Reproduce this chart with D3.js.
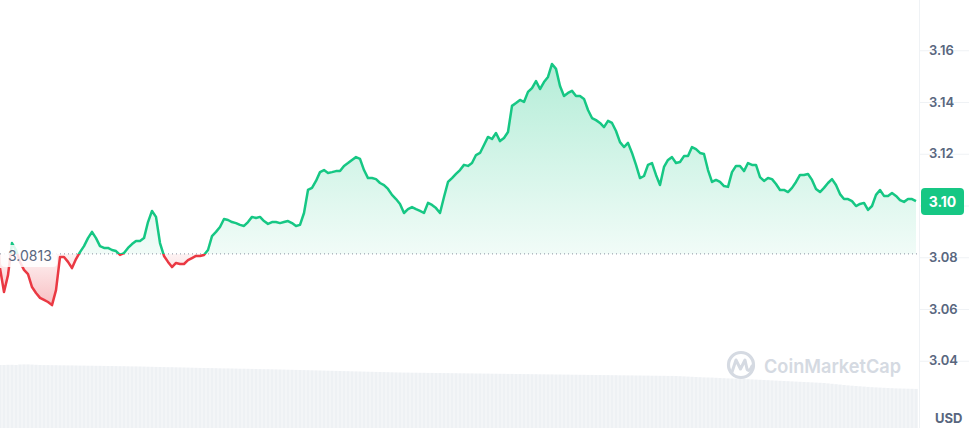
<!DOCTYPE html>
<html><head><meta charset="utf-8">
<script src="https://cdn.jsdelivr.net/npm/d3@7"></script>
<style>html,body{margin:0;padding:0;background:#fff;}svg{display:block;font-family:Inter,"Noto Sans",sans-serif;}</style>
</head><body>
<svg id="chart" width="969" height="428"></svg>
<script>
const prices = [
3.0758,3.0666,3.0731,3.0855,3.0828,3.0782,3.0751,3.0735,3.0685,3.0662,
3.0643,3.0635,3.0627,3.0615,3.0673,3.0801,3.0801,3.0782,3.0758,3.0793,
3.0820,3.0843,3.0874,3.0898,3.0874,3.0843,3.0836,3.0836,3.0828,3.0824,
3.0809,3.0816,3.0836,3.0851,3.0863,3.0863,3.0874,3.0936,3.0979,3.0956,
3.0855,3.0805,3.0782,3.0762,3.0778,3.0774,3.0774,3.0789,3.0797,3.0805,
3.0805,3.0809,3.0828,3.0882,3.0898,3.0917,3.0948,3.0944,3.0936,3.0932,
3.0925,3.0921,3.0936,3.0956,3.0952,3.0956,3.0940,3.0929,3.0936,3.0936,
3.0932,3.0936,3.0940,3.0932,3.0921,3.0925,3.0971,3.1060,3.1068,3.1095,
3.1129,3.1137,3.1126,3.1129,3.1133,3.1133,3.1153,3.1164,3.1176,3.1187,
3.1180,3.1137,3.1106,3.1106,3.1102,3.1087,3.1079,3.1064,3.1041,3.1025,
3.1006,3.0971,3.0986,3.0994,3.0986,3.0979,3.0971,3.1010,3.1002,3.0990,
3.0971,3.1033,3.1091,3.1106,3.1122,3.1137,3.1157,3.1153,3.1164,3.1195,
3.1203,3.1234,3.1265,3.1257,3.1280,3.1249,3.1261,3.1284,3.1385,3.1396,
3.1408,3.1400,3.1439,3.1454,3.1481,3.1450,3.1477,3.1497,3.1547,3.1528,
3.1462,3.1423,3.1435,3.1443,3.1423,3.1423,3.1412,3.1369,3.1338,3.1330,
3.1319,3.1303,3.1327,3.1319,3.1288,3.1245,3.1226,3.1242,3.1203,3.1157,
3.1106,3.1114,3.1157,3.1164,3.1118,3.1079,3.1149,3.1176,3.1187,3.1164,
3.1168,3.1191,3.1191,3.1226,3.1218,3.1203,3.1199,3.1137,3.1091,3.1099,
3.1091,3.1075,3.1072,3.1129,3.1153,3.1153,3.1133,3.1164,3.1157,3.1157,
3.1110,3.1095,3.1106,3.1102,3.1083,3.1060,3.1060,3.1052,3.1068,3.1091,
3.1118,3.1118,3.1122,3.1099,3.1064,3.1052,3.1068,3.1087,3.1102,3.1079,
3.1044,3.1025,3.1025,3.1017,3.0998,3.1006,3.1010,3.0983,3.0998,3.1041,
3.1060,3.1037,3.1037,3.1048,3.1037,3.1021,3.1014,3.1025,3.1025,3.1017
];
const volumes = [
63,63,63.2,63.2,63,63.5,63.6,63.6,63.4,63.2,
63,62.9,62.9,62.8,62.8,62.7,62.7,62.6,62.6,62.5,
62.4,62.4,62.3,62.3,62.2,62.2,62.1,62,62,61.9,
61.8,61.8,61.7,61.6,61.6,61.5,61.4,61.3,61.2,61.1,
61,60.9,60.8,60.8,60.7,60.6,60.5,60.4,60.3,60.2,
60.1,60,60,59.9,59.8,59.7,59.6,59.6,59.5,59.4,
59.3,59.3,59.2,59.1,59,58.9,58.8,58.8,58.7,58.6,
58.5,58.4,58.3,58.2,58.1,58,57.9,57.8,57.7,57.6,
57.5,57.4,57.3,57.2,57.1,57,56.9,56.8,56.7,56.6,
56.5,56.4,56.3,56.2,56.1,56,55.9,55.8,55.7,55.6,
55.5,55.4,55.4,55.3,55.3,55.2,55.2,55.1,55.1,55,
55,54.9,54.9,54.8,54.8,54.7,54.7,54.6,54.6,54.5,
54.5,54.4,54.4,54.3,54.3,54.2,54.2,54.1,54.1,54,
54,53.9,53.9,53.8,53.8,53.7,53.7,53.6,53.6,53.5,
53.5,53.4,53.4,53.3,53.3,53.2,53.2,53.1,53.1,53,
53,52.9,52.9,52.8,52.8,52.7,52.7,52.6,52.6,52.5,
52.5,52.4,52.4,52.3,52.3,52.2,52.2,52.1,52.1,52,
51.8,51.6,51.4,51.2,51,50.8,50.6,50.5,50.4,50.2,
50,49.8,49.6,49.5,49.4,49.2,49,48.8,48.6,48.4,
48.2,48,47.8,47.6,47.4,47.2,47,46.8,46.6,46.4,
46.2,46,45.8,45.6,45.4,45.2,45,44.6,44.2,43.8,
43.4,43,42.6,42.3,42,41.7,41.4,41.1,40.8,40.6,
40.4,40.2,40,39.8,39.6,39.5,39.4,39.3,39.2,39.1
];
const yTicks = [3.04, 3.06, 3.08, 3.10, 3.12, 3.14, 3.16];
const baseline = 3.0813;
const currentLabel = "3.10";
const baselineLabel = "3.0813";
const unitLabel = "USD";
const watermark = "CoinMarketCap";

const W = 969, H = 428, plotR = 919;
const svg = d3.select("#chart");
const x = d3.scaleLinear().domain([0, prices.length - 1]).range([0, 916]);
const y = d3.scaleLinear().domain([3.04, 3.16]).range([360.75, 50.25]);
const yv = d3.scaleLinear().domain([0, 63]).range([H, 365]);
const step = x(1) - x(0);

// gridlines
svg.append("g").attr("class","grid")
  .call(d3.axisLeft(y).tickValues(yTicks).tickSize(-plotR).tickFormat(""))
  .attr("transform", `translate(${plotR},0)`)
  .call(g => g.select(".domain").remove())
  .call(g => g.selectAll("line").attr("stroke", "#eff2f5").attr("stroke-width", 1));

// volume bars
svg.append("g").selectAll("rect").data(volumes).join("rect")
  .attr("x", (d, i) => x(i) - step / 2 + 0.3)
  .attr("width", step - 0.6)
  .attr("y", d => yv(d))
  .attr("height", d => H - yv(d))
  .attr("fill", "#eef1f4");

// right axis border
svg.append("line").attr("x1", plotR + 0.5).attr("x2", plotR + 0.5).attr("y1", 0).attr("y2", H)
  .attr("stroke", "#eff2f5");

// watermark
const wm = svg.append("g").attr("fill", "none").attr("stroke", "#d5dae2");
wm.append("circle").attr("cx", 741).attr("cy", 365).attr("r", 12.5).attr("stroke-width", 3.2);
wm.append("path").attr("d", "M732,372 L736,360 L740.5,369 L745,360 L747,369 Q749,373 752,366")
  .attr("stroke-width", 3).attr("stroke-linejoin", "round").attr("stroke-linecap", "round");
svg.append("text").attr("x", 764).attr("y", 373).attr("font-size", 19).attr("font-weight", 600)
  .attr("textLength", 137).attr("lengthAdjust", "spacingAndGlyphs")
  .attr("fill", "#d5dae2").text(watermark);

// gradients and clips
const defs = svg.append("defs");
const gG = defs.append("linearGradient").attr("id", "gg").attr("gradientUnits", "userSpaceOnUse")
  .attr("x1", 0).attr("x2", 0).attr("y1", y(d3.max(prices))).attr("y2", y(baseline));
gG.append("stop").attr("offset", 0).attr("stop-color", "#16c784").attr("stop-opacity", 0.32);
gG.append("stop").attr("offset", 1).attr("stop-color", "#16c784").attr("stop-opacity", 0.06);
const rG = defs.append("linearGradient").attr("id", "rg").attr("gradientUnits", "userSpaceOnUse")
  .attr("x1", 0).attr("x2", 0).attr("y1", y(baseline)).attr("y2", y(d3.min(prices)));
rG.append("stop").attr("offset", 0).attr("stop-color", "#ea3943").attr("stop-opacity", 0.06);
rG.append("stop").attr("offset", 1).attr("stop-color", "#ea3943").attr("stop-opacity", 0.32);
defs.append("clipPath").attr("id", "above").append("rect")
  .attr("x", -5).attr("y", 0).attr("width", plotR + 5).attr("height", y(baseline));
defs.append("clipPath").attr("id", "below").append("rect")
  .attr("x", -5).attr("y", y(baseline)).attr("width", plotR + 5).attr("height", H - y(baseline));

const area = d3.area().x((d, i) => x(i)).y0(y(baseline)).y1(d => y(d));
const line = d3.line().x((d, i) => x(i)).y(d => y(d));

svg.append("path").datum(prices).attr("d", area).attr("fill", "url(#gg)").attr("clip-path", "url(#above)");
svg.append("path").datum(prices).attr("d", area).attr("fill", "url(#rg)").attr("clip-path", "url(#below)");

// baseline dotted
svg.append("line").attr("x1", 0).attr("x2", plotR).attr("y1", y(baseline)).attr("y2", y(baseline))
  .attr("stroke", "#8a93a3").attr("stroke-width", 1).attr("stroke-dasharray", "1,3");

svg.append("path").datum(prices).attr("d", line).attr("fill", "none").attr("stroke", "#16c784")
  .attr("stroke-width", 2.5).attr("stroke-linejoin", "round").attr("clip-path", "url(#above)");
svg.append("path").datum(prices).attr("d", line).attr("fill", "none").attr("stroke", "#ea3943")
  .attr("stroke-width", 2.5).attr("stroke-linejoin", "round").attr("clip-path", "url(#below)");

// baseline label
svg.append("rect").attr("x", 1).attr("y", y(baseline) - 9).attr("width", 56).attr("height", 22)
  .attr("rx", 4).attr("fill", "#fff").attr("fill-opacity", 0.85);
svg.append("text").attr("x", 8).attr("y", y(baseline) + 2).attr("dy", "0.35em")
  .attr("font-size", 14).attr("fill", "#58667e").text(baselineLabel);

// right axis labels
svg.append("g").attr("transform", `translate(${plotR + 7},0)`)
  .call(d3.axisRight(y).tickValues(yTicks.filter(v => v !== 3.10)).tickSize(0).tickFormat(d3.format(".2f")))
  .call(g => g.select(".domain").remove())
  .call(g => g.selectAll("text").attr("fill", "#58667e").attr("font-size", 13).attr("font-weight", 600)
    .attr("font-family", "Inter, sans-serif"));

// current price tag
const cy = y(prices[prices.length - 1]);
svg.append("rect").attr("x", 921).attr("y", cy - 13).attr("width", 43).attr("height", 27).attr("rx", 4)
  .attr("fill", "#16c784");
svg.append("text").attr("x", 942.5).attr("y", cy + 0.5).attr("dy", "0.35em").attr("text-anchor", "middle")
  .attr("font-size", 14).attr("font-weight", 700).attr("fill", "#fff").text(currentLabel);

svg.append("text").attr("x", 935).attr("y", 423).attr("font-size", 13).attr("font-weight", 700)
  .attr("fill", "#58667e").text(unitLabel);
</script>
</body></html>
